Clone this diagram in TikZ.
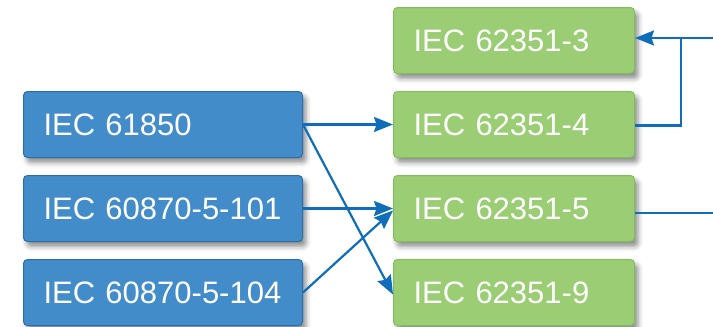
\documentclass[tikz,border=0pt]{standalone}
\usepackage{fontspec}
\setmainfont{Liberation Sans}
\usetikzlibrary{arrows.meta,shadows.blur}

\definecolor{stdblue}{HTML}{438CCA}
\definecolor{stdblueedge}{HTML}{2C6DAA}
\definecolor{stdgreen}{HTML}{9BCE74}
\definecolor{stdgreenedge}{HTML}{80BE5A}
\definecolor{linkblue}{HTML}{106DBA}

\tikzset{
  stdbox/.style={rectangle, rounded corners=4pt, line width=1pt,
    anchor=north west, inner xsep=20pt, inner ysep=0pt,
    minimum height=66pt, text height=22.2pt, text depth=0pt,
    align=left, text=white, font=\fontsize{31}{31}\selectfont,
    blur shadow={shadow xshift=3.5pt, shadow yshift=-5pt,
      shadow blur radius=5pt, shadow opacity=45}},
  srcbox/.style={stdbox, fill=stdblue, draw=stdblueedge, text width=239pt},
  dstbox/.style={stdbox, fill=stdgreen, draw=stdgreenedge, text width=201pt},
  link/.style={draw=linkblue, line width=2.2pt},
  arrowlink/.style={link, -{Stealth[length=19pt, width=15pt, inset=2.5pt]}}
}

\begin{document}
\begin{tikzpicture}[x=1pt, y=-1pt]
  \useasboundingbox (0,0) rectangle (713,327);

  % source standards
  \node[srcbox] (s1) at (23,91)  {IEC 61850};
  \node[srcbox] (s2) at (23,175) {IEC 60870-5-101};
  \node[srcbox] (s3) at (23,259) {IEC 60870-5-104};

  % security standards
  \node[dstbox] (d3) at (393,7)   {IEC 62351-3};
  \node[dstbox] (d4) at (393,91)  {IEC 62351-4};
  \node[dstbox] (d5) at (393,175) {IEC 62351-5};
  \node[dstbox] (d9) at (393,259) {IEC 62351-9};

  % free ends at the right border and the joint of the bracket
  \coordinate (in3) at (713,38);
  \coordinate (joint) at (681,38);
  \coordinate (out5) at (713,213);

  % mappings from protocols to security parts
  \draw[arrowlink] (s1.east) -- (d4.west);
  \draw[arrowlink] (s1.east) -- ([yshift=-2pt]d9.west);
  \draw[arrowlink] (s2.east) -- (d5.west);
  \draw[arrowlink] (s3.east) -- ([yshift=-2pt]d5.west);

  % right-hand connections
  \draw[arrowlink] (in3) -- (d3.east |- in3);
  \draw[link] ([yshift=-1pt]d4.east) -| (joint);
  \draw[link] (d5.east |- out5) -- (out5);
\end{tikzpicture}
\end{document}
